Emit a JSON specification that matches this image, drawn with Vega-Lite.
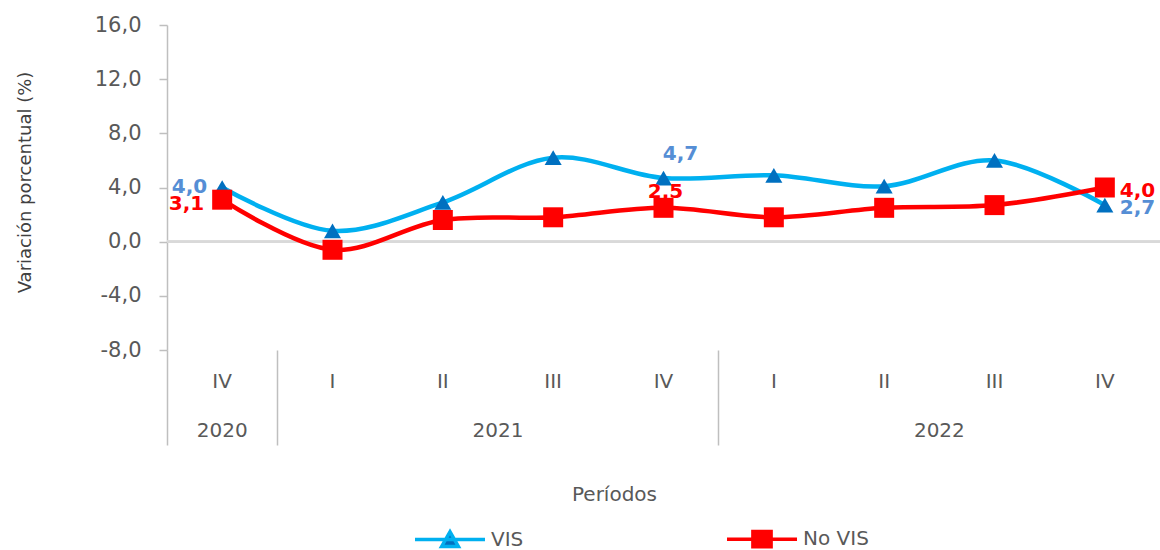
{
  "$schema": "https://vega.github.io/schema/vega-lite/v6.json",
  "autosize": "none",
  "width": 993,
  "height": 325,
  "padding": {"left": 167, "top": 25, "right": 0, "bottom": 200},
  "background": "white",
  "config": {
    "view": {"stroke": null},
    "font": "DejaVu Sans",
    "locale": {"number": {"decimal": ",", "thousands": ".", "grouping": [3], "currency": ["", " €"], "minus": "-"}}
  },
  "data": {"values": [
    {"periodo": "IV 2020", "serie": "VIS", "valor": 4.0},
    {"periodo": "I 2021", "serie": "VIS", "valor": 0.8},
    {"periodo": "II 2021", "serie": "VIS", "valor": 2.9},
    {"periodo": "III 2021", "serie": "VIS", "valor": 6.2},
    {"periodo": "IV 2021", "serie": "VIS", "valor": 4.7},
    {"periodo": "I 2022", "serie": "VIS", "valor": 4.9},
    {"periodo": "II 2022", "serie": "VIS", "valor": 4.1},
    {"periodo": "III 2022", "serie": "VIS", "valor": 6.0},
    {"periodo": "IV 2022", "serie": "VIS", "valor": 2.7},
    {"periodo": "IV 2020", "serie": "No VIS", "valor": 3.1},
    {"periodo": "I 2021", "serie": "No VIS", "valor": -0.6},
    {"periodo": "II 2021", "serie": "No VIS", "valor": 1.6},
    {"periodo": "III 2021", "serie": "No VIS", "valor": 1.8},
    {"periodo": "IV 2021", "serie": "No VIS", "valor": 2.5},
    {"periodo": "I 2022", "serie": "No VIS", "valor": 1.8},
    {"periodo": "II 2022", "serie": "No VIS", "valor": 2.5},
    {"periodo": "III 2022", "serie": "No VIS", "valor": 2.7},
    {"periodo": "IV 2022", "serie": "No VIS", "valor": 4.0}
  ]},
  "resolve": {"axis": {"x": "independent"}},
  "layer": [
    {
      "mark": {"type": "rule", "color": "#D9D9D9", "strokeWidth": 2},
      "encoding": {"y": {"datum": 0, "type": "quantitative"}}
    },
    {
      "transform": [{"filter": "datum.serie === 'VIS'"}],
      "mark": {"type": "line", "interpolate": "catmull-rom", "strokeWidth": 4.5},
      "encoding": {
        "x": {"field": "periodo", "type": "ordinal", "sort": null,
          "scale": {"type": "band", "paddingInner": 0, "paddingOuter": 0},
          "axis": {"orient": "bottom", "title": null, "ticks": false, "tickSize": 0, "domain": false, "grid": false,
            "labelExpr": "split(datum.value, ' ')[0]", "labelAngle": 0, "labelBaseline": "middle", "labelPadding": 31,
            "labelFontSize": 20, "labelColor": "#595959"}},
        "y": {"field": "valor", "type": "quantitative",
          "scale": {"domain": [-8, 16], "nice": false, "zero": false},
          "axis": {"values": [-8, -4, 0, 4, 8, 12, 16], "format": ".1f", "grid": false,
            "tickSize": 8, "tickColor": "#BFBFBF", "domainColor": "#BFBFBF", "domainWidth": 1.5, "tickWidth": 1.5,
            "labelPadding": 18, "labelFontSize": 21, "labelColor": "#595959",
            "title": "Variación porcentual (%)", "titleX": -142, "titleY": 157, "titleAngle": -90,
            "titleAlign": "center", "titleBaseline": "middle", "titleFontSize": 18, "titleFontWeight": "normal", "titleColor": "#404040"}},
        "color": {"field": "serie", "type": "nominal",
          "scale": {"domain": ["VIS", "No VIS"], "range": ["#00B0F0", "#FF0000"]},
          "legend": {"orient": "none", "legendX": 246, "legendY": 477, "direction": "horizontal", "title": null,
            "symbolSize": 4900, "symbolStrokeWidth": 3.5, "labelFontSize": 20, "labelColor": "#595959",
            "labelOffset": 4, "columnPadding": 196, "padding": 0,
            "encode": {"symbols": {"update": {
              "shape": {"signal": "datum.value === 'VIS' ? 'M-1,0H1M-0.24,0.2L0,-0.22L0.24,0.2Z' : 'M-1,0H1M-0.26,-0.22H0.26V0.22H-0.26Z'"},
              "fill": {"signal": "datum.value === 'VIS' ? '#0070C0' : '#FF0000'"},
              "fillOpacity": {"value": 1}}}}}}
      }
    },
    {
      "transform": [{"filter": "datum.serie === 'VIS'"}],
      "mark": {"type": "point", "shape": "triangle-up", "filled": true, "size": 290, "color": "#0070C0", "opacity": 1},
      "encoding": {
        "x": {"field": "periodo", "type": "ordinal", "sort": null,
          "axis": {"orient": "bottom", "title": null, "ticks": false, "tickSize": 0, "domain": false, "grid": false,
            "values": ["IV 2020", "II 2021", "II 2022"],
            "labelExpr": "split(datum.value, ' ')[1]", "labelAngle": 0, "labelBaseline": "middle", "labelPadding": 80,
            "labelOffset": {"condition": {"test": "datum.value === 'IV 2020'", "value": 0}, "value": 55.2},
            "labelFontSize": 20, "labelColor": "#595959"}},
        "y": {"field": "valor", "type": "quantitative"}
      }
    },
    {
      "transform": [{"filter": "datum.serie === 'No VIS'"}],
      "mark": {"type": "line", "interpolate": "catmull-rom", "strokeWidth": 4.5},
      "encoding": {
        "x": {"field": "periodo", "type": "ordinal", "sort": null,
          "axis": {"orient": "bottom", "values": ["IV 2020", "I 2021", "I 2022"], "bandPosition": 0,
            "ticks": true, "tickSize": 95, "tickColor": "#BFBFBF", "tickWidth": 1.5, "labels": false, "domain": false, "grid": false,
            "title": "Períodos", "titleX": 447, "titleY": 144, "titleAlign": "center", "titleBaseline": "middle",
            "titleFontSize": 20, "titleFontWeight": "normal", "titleColor": "#595959"}},
        "y": {"field": "valor", "type": "quantitative"},
        "color": {"field": "serie", "type": "nominal"}
      }
    },
    {
      "transform": [{"filter": "datum.serie === 'No VIS'"}],
      "mark": {"type": "point", "shape": "square", "filled": true, "size": 400, "color": "#FF0000", "opacity": 1},
      "encoding": {
        "x": {"field": "periodo", "type": "ordinal", "sort": null, "axis": null},
        "y": {"field": "valor", "type": "quantitative"}
      }
    },
    {
      "transform": [{"filter": "datum.periodo === 'IV 2020' && datum.serie === 'VIS'"}],
      "mark": {"type": "text", "align": "right", "baseline": "middle", "dx": -15, "dy": -1, "fontSize": 20, "fontWeight": "bold", "color": "#558ED5"},
      "encoding": {
        "x": {"field": "periodo", "type": "ordinal", "sort": null, "axis": null},
        "y": {"field": "valor", "type": "quantitative"},
        "text": {"field": "valor", "type": "quantitative", "format": ".1f"}
      }
    },
    {
      "transform": [{"filter": "datum.periodo === 'IV 2020' && datum.serie === 'No VIS'"}],
      "mark": {"type": "text", "align": "right", "baseline": "middle", "dx": -18, "dy": 4, "fontSize": 20, "fontWeight": "bold", "color": "#FF0000"},
      "encoding": {
        "x": {"field": "periodo", "type": "ordinal", "sort": null, "axis": null},
        "y": {"field": "valor", "type": "quantitative"},
        "text": {"field": "valor", "type": "quantitative", "format": ".1f"}
      }
    },
    {
      "transform": [{"filter": "datum.periodo === 'IV 2022'"}],
      "mark": {"type": "text", "align": "left", "baseline": "middle", "dx": 15, "dy": 3, "fontSize": 20, "fontWeight": "bold"},
      "encoding": {
        "x": {"field": "periodo", "type": "ordinal", "sort": null, "axis": null},
        "y": {"field": "valor", "type": "quantitative"},
        "text": {"field": "valor", "type": "quantitative", "format": ".1f"},
        "color": {"condition": {"test": "datum.serie === 'VIS'", "value": "#558ED5"}, "value": "#FF0000"}
      }
    },
    {
      "transform": [{"filter": "datum.periodo === 'IV 2021' && datum.serie === 'VIS'"}],
      "mark": {"type": "text", "align": "center", "baseline": "middle", "dx": 17, "dy": -24, "fontSize": 20, "fontWeight": "bold", "color": "#558ED5"},
      "encoding": {
        "x": {"field": "periodo", "type": "ordinal", "sort": null, "axis": null},
        "y": {"field": "valor", "type": "quantitative"},
        "text": {"field": "valor", "type": "quantitative", "format": ".1f"}
      }
    },
    {
      "transform": [{"filter": "datum.periodo === 'IV 2021' && datum.serie === 'No VIS'"}],
      "mark": {"type": "text", "align": "center", "baseline": "middle", "dx": 2, "dy": -16, "fontSize": 20, "fontWeight": "bold", "color": "#FF0000"},
      "encoding": {
        "x": {"field": "periodo", "type": "ordinal", "sort": null, "axis": null},
        "y": {"field": "valor", "type": "quantitative"},
        "text": {"field": "valor", "type": "quantitative", "format": ".1f"}
      }
    }
  ]
}
